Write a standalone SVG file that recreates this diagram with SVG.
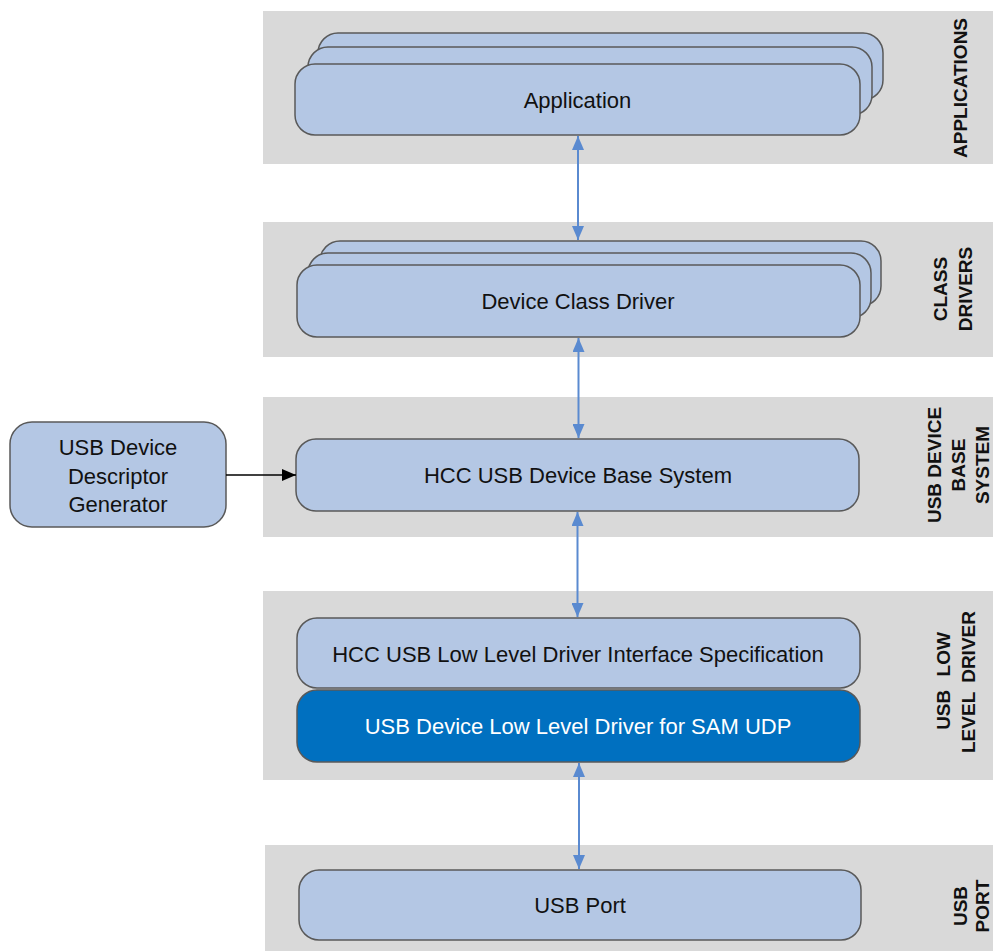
<svg xmlns="http://www.w3.org/2000/svg" width="993" height="951" viewBox="0 0 993 951">
<style>
.band{fill:#d9d9d9;stroke:none}
.box{fill:#b4c7e4;stroke:#595959;stroke-width:1.5}
.dark{fill:#0070c0;stroke:#595959;stroke-width:1.5}
.t{font-family:"Liberation Sans",Arial,sans-serif;font-size:22px;fill:#111;text-anchor:middle}
.tw{font-family:"Liberation Sans",Arial,sans-serif;font-size:22px;fill:#fff;text-anchor:middle}
.lab{font-family:"Liberation Sans",Arial,sans-serif;font-size:19px;font-weight:bold;fill:#111;text-anchor:middle}
.conn{stroke:#5a8ad0;stroke-width:2;fill:none}
.blk{stroke:#000;stroke-width:1.5;fill:none}
</style>
<defs>
<marker id="ab" viewBox="0 0 14 12" refX="14" refY="6" markerWidth="14" markerHeight="12" markerUnits="userSpaceOnUse" orient="auto-start-reverse">
<path d="M0,0 L14,6 L0,12 Z" fill="#5a8ad0"/>
</marker>
<marker id="ak" viewBox="0 0 14 12" refX="14" refY="6" markerWidth="14" markerHeight="12" markerUnits="userSpaceOnUse" orient="auto">
<path d="M0,0 L14,6 L0,12 Z" fill="#000"/>
</marker>
</defs>
<g id="bands">
<rect class="band" x="263" y="11" width="730" height="153"/>
<rect class="band" x="263" y="222" width="730" height="135"/>
<rect class="band" x="263" y="397" width="730" height="140"/>
<rect class="band" x="263" y="591" width="730" height="189"/>
<rect class="band" x="265" y="845" width="728" height="106"/>
</g>
<g id="layer-labels">
<text class="lab" transform="translate(967,88) rotate(-90)">APPLICATIONS</text>
<text class="lab" transform="translate(946.5,289) rotate(-90)">CLASS</text>
<text class="lab" transform="translate(971.5,289) rotate(-90)">DRIVERS</text>
<text class="lab" transform="translate(941,465) rotate(-90)">USB DEVICE</text>
<text class="lab" transform="translate(965,465) rotate(-90)">BASE</text>
<text class="lab" transform="translate(988.5,465) rotate(-90)">SYSTEM</text>
<text class="lab" transform="translate(950,681) rotate(-90)" style="word-spacing:8px">USB LOW</text>
<text class="lab" transform="translate(975,682) rotate(-90)" style="word-spacing:4px">LEVEL DRIVER</text>
<text class="lab" transform="translate(966.5,906) rotate(-90)">USB</text>
<text class="lab" transform="translate(989,906) rotate(-90)">PORT</text>
</g>
<g id="application">
<rect class="box" x="318" y="33" width="565" height="67" rx="20"/>
<rect class="box" x="308" y="47" width="564" height="68" rx="20"/>
<rect class="box" x="295" y="64" width="565" height="71" rx="20"/>
<text class="t" x="577.5" y="107.5">Application</text>
</g>
<g id="device-class-driver">
<rect class="box" x="320" y="241" width="561" height="65" rx="20"/>
<rect class="box" x="308" y="253" width="563" height="65" rx="20"/>
<rect class="box" x="297" y="265" width="563" height="72" rx="20"/>
<text class="t" x="578" y="309">Device Class Driver</text>
</g>
<g id="base-system">
<rect class="box" x="296" y="439" width="563" height="72" rx="20"/>
<text class="t" x="578" y="482.5">HCC USB Device Base System</text>
</g>
<g id="ll-interface">
<rect class="box" x="297" y="618" width="563" height="70" rx="20"/>
<text class="t" x="578" y="661.5">HCC USB Low Level Driver Interface Specification</text>
</g>
<g id="ll-driver">
<rect class="dark" x="297" y="690" width="563" height="72" rx="20"/>
<text class="tw" x="578" y="733.5">USB Device Low Level Driver for SAM UDP</text>
</g>
<g id="usb-port">
<rect class="box" x="299" y="870" width="562" height="70" rx="20"/>
<text class="t" x="580" y="913">USB Port</text>
</g>
<g id="descriptor-generator">
<rect class="box" x="10" y="422" width="216" height="105" rx="22"/>
<text class="t" x="118" y="455">USB Device</text>
<text class="t" x="118" y="483.5">Descriptor</text>
<text class="t" x="118" y="512">Generator</text>
</g>
<g id="connectors">
<line class="conn" x1="578" y1="136" x2="578" y2="240" marker-start="url(#ab)" marker-end="url(#ab)"/>
<line class="conn" x1="578.5" y1="338" x2="578.5" y2="438" marker-start="url(#ab)" marker-end="url(#ab)"/>
<line class="conn" x1="577.5" y1="512" x2="577.5" y2="617" marker-start="url(#ab)" marker-end="url(#ab)"/>
<line class="conn" x1="579" y1="763" x2="579" y2="869" marker-start="url(#ab)" marker-end="url(#ab)"/>
<line class="blk" x1="226" y1="475" x2="296" y2="475" marker-end="url(#ak)"/>
</g>
</svg>
